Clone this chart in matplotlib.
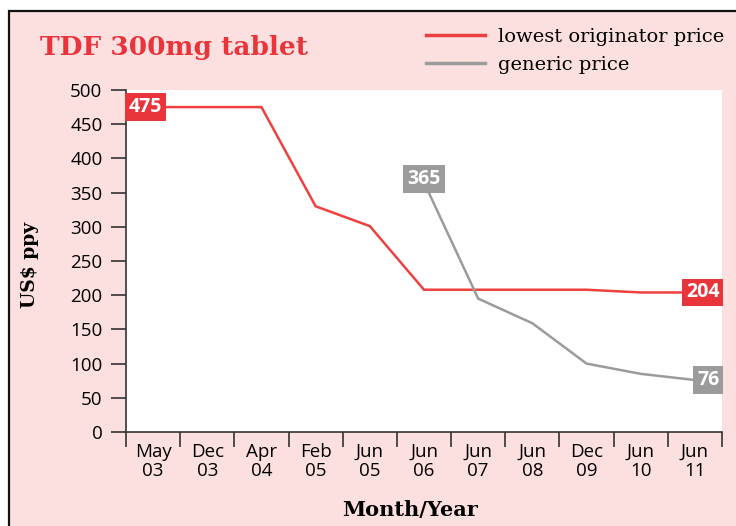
import matplotlib
matplotlib.use("Agg")
import matplotlib.pyplot as plt
from matplotlib.lines import Line2D
from matplotlib.patches import Rectangle

categories = ["May\n03", "Dec\n03", "Apr\n04", "Feb\n05", "Jun\n05", "Jun\n06",
              "Jun\n07", "Jun\n08", "Dec\n09", "Jun\n10", "Jun\n11"]
originator = [475, 475, 475, 330, 301, 208, 208, 208, 208, 204, 204]
generic_idx = [5, 6, 7, 8, 9, 10]
generic = [365, 195, 159, 100, 85, 76]
yticks = [0, 50, 100, 150, 200, 250, 300, 350, 400, 450, 500]

PINK = "#fce0e0"
RED = "#ef4040"
RED_BOX = "#e8343a"
GRAY = "#9b9b9b"
SANS = "Open Sans"
SERIF = "DejaVu Serif"

fig = plt.figure(figsize=(7.36, 5.26), dpi=100)
fig.patch.set_facecolor("white")
W, H = 736, 526
# pink panel with black border (left & top)
fig.add_artist(Rectangle((9 / W, -0.01), 1.0, 1 - 11 / H + 0.01, transform=fig.transFigure,
                         facecolor=PINK, edgecolor="#111111", linewidth=1.6, zorder=-10))

ax = fig.add_axes([126 / W, 1 - 432 / H, (722 - 126) / W, (432 - 90) / H])
ax.set_facecolor("white")
n = len(categories)
xc = [i + 0.5 for i in range(n)]
ax.plot(xc, originator, color=RED, lw=1.8, zorder=3, solid_joinstyle="miter")
ax.plot([xc[i] for i in generic_idx], generic, color=GRAY, lw=1.8, zorder=3, solid_joinstyle="miter")

ax.set_xlim(0, n)
ax.set_ylim(0, 500)
ax.set_yticks(yticks)
ax.set_xticks(range(n + 1))
ax.set_xticklabels([])
ax.set_xticks(xc, minor=True)
ax.set_xticklabels(categories, minor=True, fontfamily=SANS, fontsize=13.5, linespacing=1.05)
ax.tick_params(axis="x", which="major", length=11, width=1.2, color="#333333", direction="out")
ax.tick_params(axis="x", which="minor", length=0, pad=8)
ax.tick_params(axis="y", length=11, width=1.2, color="#333333", pad=6)
for lab in ax.get_yticklabels():
    lab.set_fontfamily(SANS)
    lab.set_fontsize(13.5)
for s in ["top", "right"]:
    ax.spines[s].set_visible(False)
for s in ["left", "bottom"]:
    ax.spines[s].set_color("#333333")
    ax.spines[s].set_linewidth(1.2)

def box(x, y, txt, fc, ha):
    ax.text(x, y, txt, ha=ha, va="center", color="white", fontweight="bold",
            fontfamily=SANS, fontsize=14, zorder=5,
            bbox=dict(boxstyle="square,pad=0.2", fc=fc, ec="none"))

box(0.05, originator[0], str(originator[0]), RED_BOX, "left")
box(xc[generic_idx[0]], generic[0] + 5, str(generic[0]), GRAY, "center")
box(n - 0.05, originator[-1], str(originator[-1]), RED_BOX, "right")
box(n - 0.05, generic[-1], str(generic[-1]), GRAY, "right")

fig.text(40 / W, 1 - 55 / H, "TDF 300mg tablet", color=RED_BOX, fontfamily=SERIF,
         fontweight="bold", fontsize=19, ha="left", va="baseline")
fig.text(30 / W, 1 - 265 / H, "US$ ppy", rotation=90, fontfamily=SERIF, fontweight="bold",
         fontsize=13.5, ha="center", va="center")
fig.text(410 / W, 1 - 510 / H, "Month/Year", fontfamily=SERIF, fontweight="bold",
         fontsize=15, ha="center", va="center")

handles = [Line2D([], [], color=RED, lw=2.5), Line2D([], [], color=GRAY, lw=2.5)]
fig.legend(handles, ["lowest originator price", "generic price"], loc="upper right",
           bbox_to_anchor=(742 / W, 1 - 10 / H), frameon=False,
           prop=dict(family=SERIF, size=14), handlelength=3.0,
           handletextpad=0.7, labelspacing=0.55)

fig.savefig("out.png", dpi=100, facecolor=fig.get_facecolor())
